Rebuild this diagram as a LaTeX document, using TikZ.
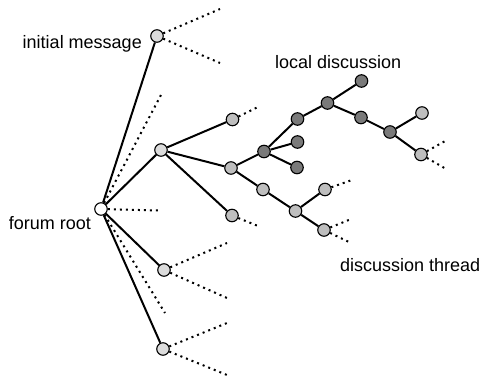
\documentclass[tikz,border=0pt]{standalone}
\usepackage{fontspec}
\setmainfont{Liberation Sans}
\definecolor{nlight}{HTML}{DCDCDC}
\definecolor{nmed}{HTML}{BEBEBE}
\definecolor{ndark}{HTML}{7A7A7A}
\begin{document}
\begin{tikzpicture}[x=1pt,y=-1pt,
  msg/.style={circle,draw=black,line width=1.1pt,minimum size=12.5pt,inner sep=0pt},
  rootn/.style={msg,fill=white},
  lightn/.style={msg,fill=nlight},
  medn/.style={msg,fill=nmed},
  darkn/.style={msg,fill=ndark},
  edge/.style={line width=2pt},
  dots/.style={line width=2pt,dash pattern=on 2pt off 4pt},
  lbl/.style={font=\fontsize{18}{21}\selectfont,inner sep=0pt}]
\useasboundingbox (0,0) rectangle (479,379);
% nodes
\node[rootn] (root) at (101,209) {};
\node[lightn] (im) at (157,36) {};
\node[lightn] (b) at (161,150) {};
\node[lightn] (c) at (164,270) {};
\node[lightn] (d) at (163,349) {};
\node[medn] (b1) at (232.5,119.5) {};
\node[medn] (b2) at (231,168) {};
\node[medn] (b3) at (232,215.5) {};
\node[darkn] (e) at (264,151.5) {};
\node[medn] (f) at (263,189.5) {};
\node[darkn] (e1) at (297.5,119) {};
\node[darkn] (e2) at (297.5,142) {};
\node[darkn] (e3) at (297,167.5) {};
\node[darkn] (g) at (327.5,103) {};
\node[darkn] (g1) at (361.5,81) {};
\node[darkn] (h) at (361,117.5) {};
\node[darkn] (i) at (390,132) {};
\node[medn] (j) at (422,113) {};
\node[medn] (k) at (421,154.5) {};
\node[medn] (l) at (295.5,211) {};
\node[medn] (m) at (325,189.5) {};
\node[medn] (n) at (324,230) {};
% labels
\node[lbl,anchor=east] (tim) at (142,44) {initial message};
\node[lbl,anchor=east] (troot) at (91,223) {forum root};
\node[lbl,anchor=west] (tloc) at (275,62) {local discussion};
\node[lbl,anchor=west] (tthr) at (340,265) {discussion thread};
% solid edges
\draw[edge] (root) -- (im);
\draw[edge] (root) -- (b);
\draw[edge] (root) -- (c);
\draw[edge] (root) -- (d);
\draw[edge] (b) -- (b1);
\draw[edge] (b) -- (b2);
\draw[edge] (b) -- (b3);
\draw[edge] (b2) -- (e);
\draw[edge] (b2) -- (f);
\draw[edge] (e) -- (e1);
\draw[edge] (e) -- (e2);
\draw[edge] (e) -- (e3);
\draw[edge] (e1) -- (g);
\draw[edge] (g) -- (g1);
\draw[edge] (g) -- (h);
\draw[edge] (h) -- (i);
\draw[edge] (i) -- (j);
\draw[edge] (i) -- (k);
\draw[edge] (f) -- (l);
\draw[edge] (l) -- (m);
\draw[edge] (l) -- (n);
% dotted continuations
\coordinate (r1) at (162,93);
\coordinate (r2) at (158,210.5);
\coordinate (r3) at (165,313);
\coordinate (im1) at (220,9);
\coordinate (im2) at (220,63);
\coordinate (c1) at (227,243);
\coordinate (c2) at (227,298);
\coordinate (d1) at (227,323);
\coordinate (d2) at (227,375);
\coordinate (b1x) at (258,107);
\coordinate (b3x) at (258,226);
\coordinate (mx) at (352,180);
\coordinate (n1) at (350,219.5);
\coordinate (n2) at (350,242.5);
\coordinate (k1) at (447,140);
\coordinate (k2) at (447,169.5);
\foreach \a/\z in {root/r1,root/r2,root/r3,im/im1,im/im2,c/c1,c/c2,d/d1,d/d2,b1/b1x,b3/b3x,m/mx,n/n1,n/n2,k/k1,k/k2}
  \draw[dots] (\a) -- (\z);
\end{tikzpicture}
\end{document}
